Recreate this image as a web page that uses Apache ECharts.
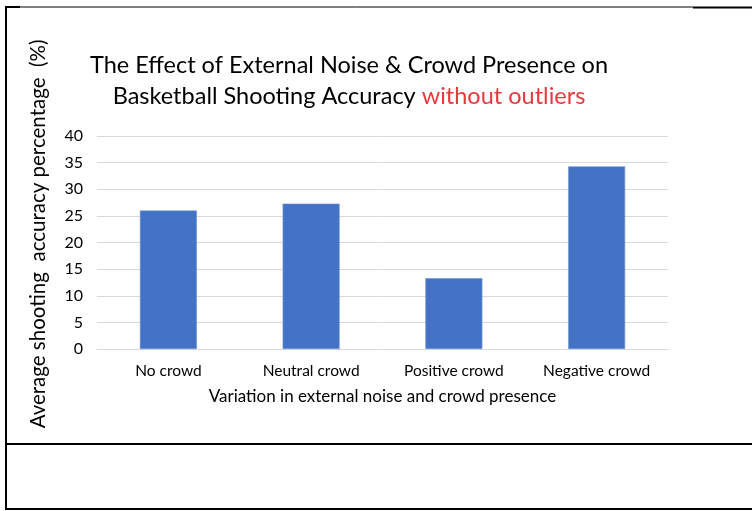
<!DOCTYPE html>
<html>
<head>
<meta charset="utf-8">
<script src="https://cdn.jsdelivr.net/npm/echarts@6/dist/echarts.min.js"></script>
<style>
html,body{margin:0;padding:0;background:#fff;}
#c{width:752px;height:511px;}
</style>
</head>
<body>
<div id="c"></div>
<script>
const categories = ['No crowd', 'Neutral crowd', 'Positive crowd', 'Negative crowd'];
const accuracyValues = [26.0, 27.3, 13.3, 34.3];
const yTicks = [0, 5, 10, 15, 20, 25, 30, 35, 40];
const titleLine1 = 'The Effect of External Noise & Crowd Presence on';
const titleLine2a = 'Basketball Shooting Accuracy ';
const titleLine2b = 'without outliers';
const xAxisName = 'Variation in external noise and crowd presence';
const yAxisName = 'Average shooting  accuracy percentage  (%)';

const FONT = 'Lato, "Open Sans", sans-serif';
const chart = echarts.init(document.getElementById('c'), null, {renderer: 'canvas'});

chart.setOption({
  animation: false,
  backgroundColor: '#fff',
  grid: {left: 97, right: 84, top: 136, bottom: 162, containLabel: false},
  xAxis: {
    type: 'category',
    data: categories,
    axisLine: {show: true, lineStyle: {color: '#d9d9d9', width: 1}},
    axisTick: {show: false},
    axisLabel: {color: '#000', fontFamily: FONT, fontSize: 15.5, margin: 14},
    name: xAxisName,
    nameLocation: 'middle',
    nameGap: 39,
    nameTextStyle: {color: '#000', fontFamily: FONT, fontSize: 17}
  },
  yAxis: {
    type: 'value',
    min: yTicks[0],
    max: yTicks[yTicks.length - 1],
    interval: yTicks[1] - yTicks[0],
    axisLine: {show: false},
    axisTick: {show: false},
    splitLine: {lineStyle: {color: '#d9d9d9', width: 1}},
    axisLabel: {color: '#000', fontFamily: FONT, fontSize: 16, margin: 14}
  },
  series: [{
    type: 'bar',
    data: accuracyValues,
    barWidth: 57,
    itemStyle: {color: '#4472c4', borderColor: '#6f95d8', borderWidth: 0.6}
  }],
  graphic: [
    {type: 'text', z: 10,
     style: {text: titleLine1, x: 349, y: 65, textAlign: 'center', textVerticalAlign: 'middle',
             font: '23.5px ' + FONT, fill: '#000'}},
    {type: 'text', z: 10,
     style: {x: 349, y: 96, textAlign: 'center', textVerticalAlign: 'middle',
             text: '{a|' + titleLine2a + '}{b|' + titleLine2b + '}',
             rich: {
               a: {fontFamily: FONT, fontSize: 23.5, fill: '#000'},
               b: {fontFamily: FONT, fontSize: 23.5, fill: '#e8383d'}
             }}},
    {type: 'text', z: 10, rotation: Math.PI / 2, x: 38, y: 234,
     style: {text: yAxisName, x: 0, y: 0, textAlign: 'center', textVerticalAlign: 'middle',
             font: '20.5px ' + FONT, fill: '#000'}},
    {type: 'line', shape: {x1: 6, y1: 7, x2: 20, y2: 7}, style: {stroke: '#000', lineWidth: 2}},
    {type: 'line', shape: {x1: 20, y1: 7, x2: 693, y2: 7}, style: {stroke: '#000', lineWidth: 1}},
    {type: 'line', shape: {x1: 693, y1: 7.5, x2: 752, y2: 7.5}, style: {stroke: '#000', lineWidth: 2}},
    {type: 'line', shape: {x1: 6, y1: 6, x2: 6, y2: 510}, style: {stroke: '#000', lineWidth: 2}},
    {type: 'line', shape: {x1: 5, y1: 444, x2: 752, y2: 444}, style: {stroke: '#000', lineWidth: 2}},
    {type: 'line', shape: {x1: 5, y1: 509, x2: 752, y2: 509}, style: {stroke: '#000', lineWidth: 2}}
  ]
});
</script>
</body>
</html>
